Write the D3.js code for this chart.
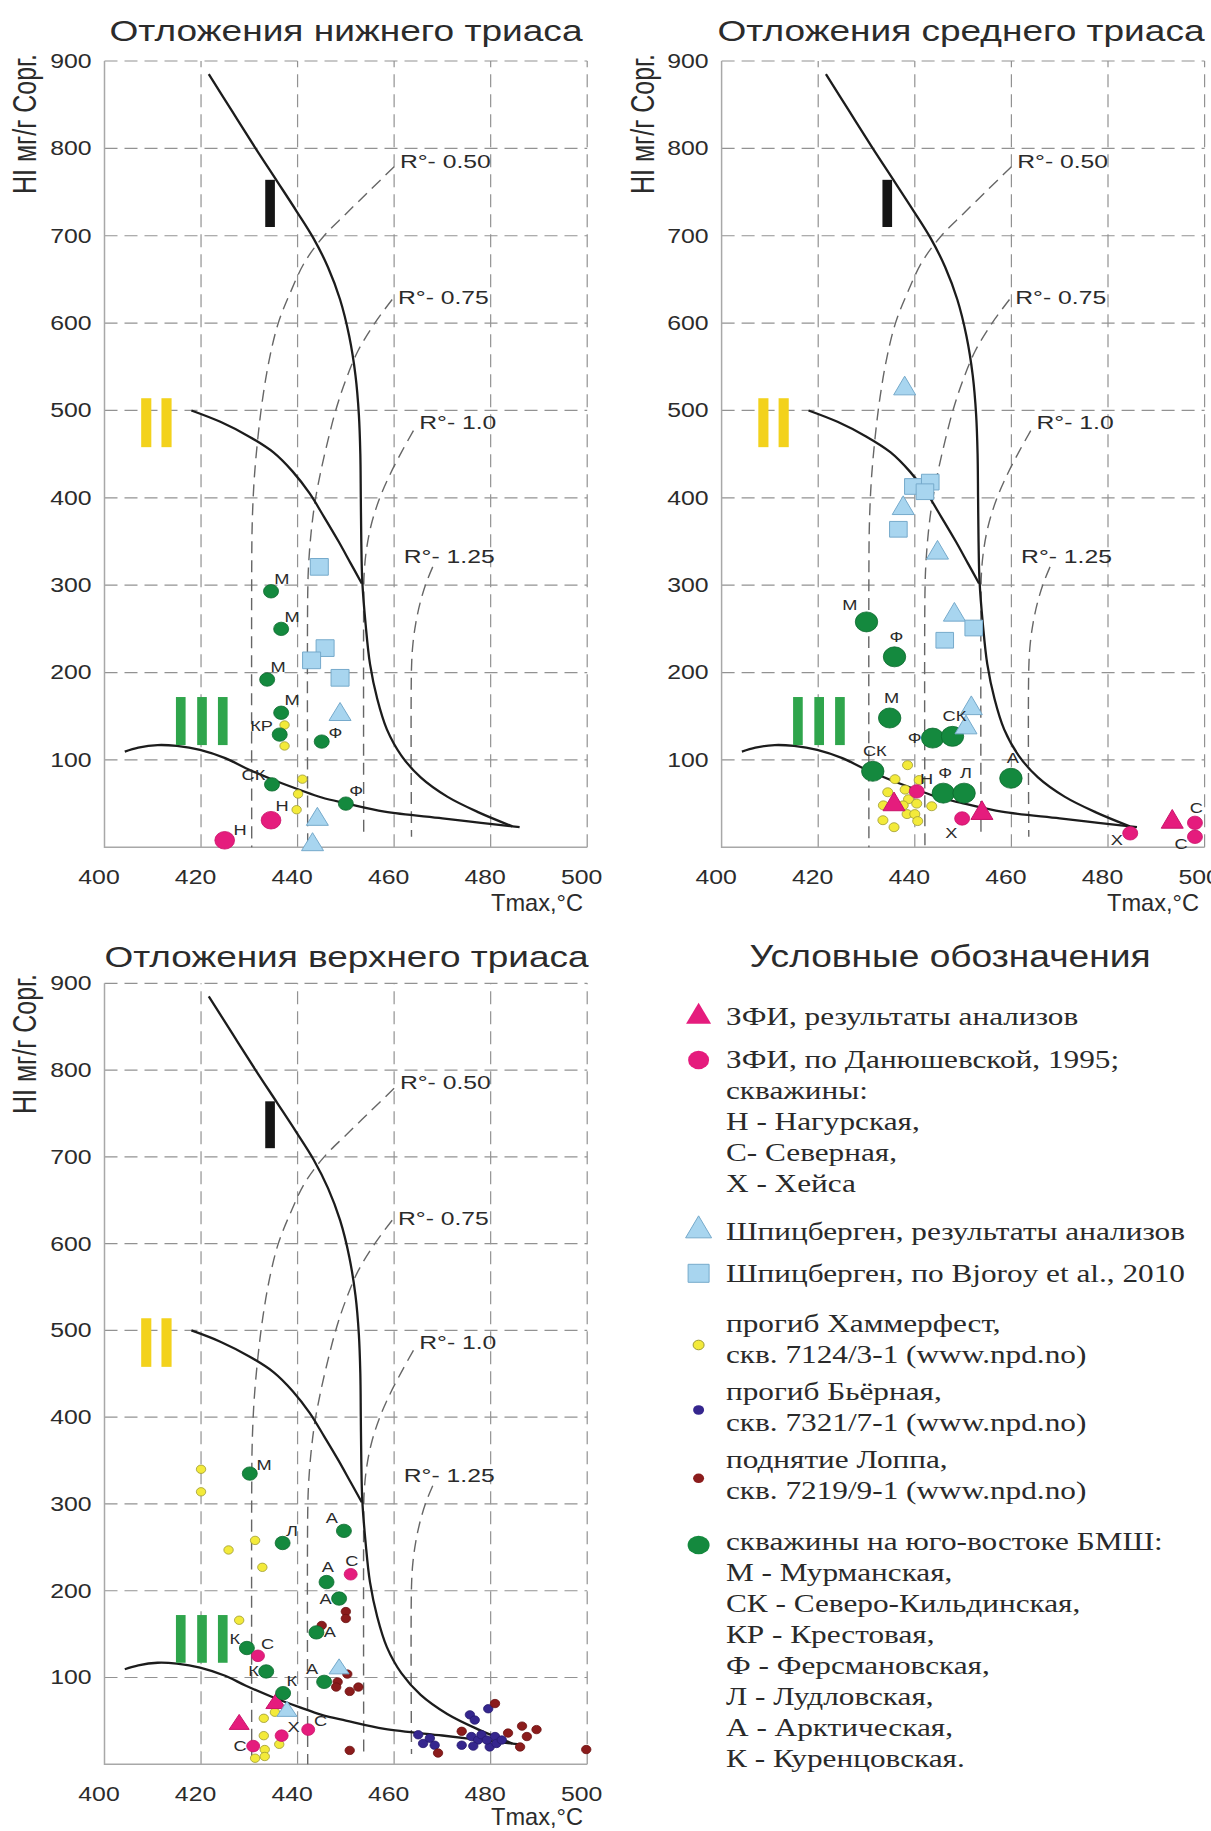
<!DOCTYPE html>
<html>
<head>
<meta charset="utf-8">
<script src="https://cdn.jsdelivr.net/npm/d3@7"></script>
<style>
  body { margin: 0; background: #fff; }
  svg { display: block; }
  text { font-family: "Liberation Sans", Arial, sans-serif; fill: #2b2b2b; }
  .serif { font-family: "Liberation Serif", "Times New Roman", serif; fill: #2a2a2a; }
</style>
</head>
<body>
<svg id="chart" width="1211" height="1831"></svg>
<script>
// ---- axes ----
const tmaxTicks = [400, 420, 440, 460, 480, 500];
const hiTicks = [100, 200, 300, 400, 500, 600, 700, 800, 900];

// ---- kerogen type curves [Tmax, HI] ----
const typeI = [[421.6, 885], [426.5, 842], [431.3, 800], [435.8, 762], [439.8, 728], [443.3, 697], [446.3, 664],
  [448.8, 627], [450.7, 585], [452, 540], [452.7, 495], [453, 450], [453.1, 400], [453.2, 350], [453.4, 305],
  [454.1, 255], [455, 210], [456.5, 170], [458.5, 135], [461.5, 105], [465.5, 80], [471, 58], [477.5, 40], [484.5, 24]];
const typeII = [[418, 500], [424, 487], [430, 470], [435, 452], [439, 430], [442.5, 405], [445.5, 378],
  [448.5, 350], [451, 325], [453.3, 302]];
const typeIII = [[404.2, 109.5], [407, 114], [411, 117], [415, 116], [419.8, 111.5], [425, 102], [429.3, 90.5],
  [435, 77], [440.5, 65.6], [445, 57], [450, 50.4], [458, 40.8], [470, 33.2], [478, 28], [486, 23]];

// ---- vitrinite reflectance isolines ----
const ro050 = [[460, 779], [455, 752], [450, 725], [445.5, 700], [441.5, 670], [438.5, 635], [436, 600],
  [434.2, 560], [432.8, 515], [431.8, 470], [431, 420], [430.6, 370], [430.5, 320], [430.5, 0]];
const ro075 = [[459.6, 627], [456, 600], [452.5, 568], [450, 535], [448, 502], [446.3, 466], [444.8, 430],
  [443.6, 395], [442.8, 360], [442.3, 325], [442.1, 290], [442.1, 0]];
const ro100 = [[464, 477], [461.5, 452], [459, 425], [456.9, 398], [455.3, 370], [454.3, 342], [453.8, 314],
  [453.7, 285], [453.7, 12]];
const ro125 = [[468, 321], [466.6, 302], [465.4, 280], [464.5, 257], [463.9, 233], [463.6, 205], [463.6, 12]];
const roLabels = [["R°- 0.50", 461.2, 786], ["R°- 0.75", 460.8, 630], ["R°- 1.0", 465.2, 487], ["R°- 1.25", 462, 333]];

// ---- kerogen type marks (roman numerals) ----
const romans = [
  { color: "#151515", bars: [[433.3, 435.3]], hi: [710, 764] },
  { color: "#f3d21c", bars: [[407.6, 409.7], [411.8, 413.9]], hi: [458, 514] },
  { color: "#2fa54c", bars: [[414.8, 416.8], [419.2, 421.2], [423.5, 425.5]], hi: [117, 172] }
];

// ---- lower Triassic ----
const lowerGreen = [[434.5, 293, "М", "ne"], [436.6, 250, "М", "ne"], [433.7, 192, "М", "ne"], [436.6, 154, "М", "ne"],
  [436.3, 129, "КР", "nww"], [445.0, 121, "Ф", "nee"], [434.7, 72, "СК", "nww"], [450.0, 50, "Ф", "ne"]];
const lowerPinkCirc = [[424.9, 8, "Н", "nee"], [434.5, 31, "Н", "ne"]];
const lowerBlueSq = [[444.5, 321], [445.7, 228], [442.9, 214], [448.8, 194]];
const lowerBlueTri = [[448.8, 152], [444.1, 32], [443.1, 3]];
const lowerYellow = [[437.3, 140], [437.3, 116], [441.0, 78], [440.1, 61], [439.8, 43]];

// ---- middle Triassic ----
const middleGreen = [[430.0, 258, "М", "nw"], [435.8, 218, "Ф", "n"], [434.8, 148, "М", "n"], [443.7, 125, "Ф", "w"],
  [447.8, 127, "СК", "n"], [431.3, 87, "СК", "n"], [445.9, 62, "Ф", "n"], [450.2, 62, "Л", "n"], [459.9, 79, "А", "n"]];
const middlePinkCirc = [[440.4, 64, "Н", "ne"], [449.8, 33, "Х", "sw"], [484.6, 16, "Х", "wsw"], [498.0, 28, "С", "n"], [498.0, 12, "С", "wsw"]];
const middlePinkTri = [[435.7, 49], [453.9, 39], [493.3, 29]];
const middleBlueSq = [[439.7, 413], [443.2, 418], [442.1, 407], [436.6, 364], [446.2, 237], [452.2, 251]];
const middleBlueTri = [[437.9, 525], [437.6, 388], [444.7, 337], [448.2, 266], [451.7, 159], [450.6, 137]];
const middleYellow = [[438.5, 94], [435.9, 78], [440.9, 77], [434.4, 63], [438.0, 66], [433.5, 48], [438.7, 55],
  [440.4, 50], [443.5, 47], [437.6, 48], [433.4, 31], [438.4, 38], [440.0, 38], [435.7, 23], [440.6, 30]];

// ---- upper Triassic ----
const upperGreen = [[430.1, 335, "М", "nee"], [436.9, 255, "Л", "ne"], [449.6, 269, "А", "nw"], [446.0, 210, "А", "n"],
  [448.6, 191, "А", "w"], [443.9, 152, "А", "e"], [429.5, 134, "К", "nww"], [433.5, 107, "К", "w"],
  [445.5, 95, "А", "nw"], [437.0, 82, "К", "ne"]];
const upperPinkCirc = [[451.0, 219, "С", "n"], [431.8, 125, "С", "ne"], [442.2, 40, "С", "nee"], [436.7, 33, "Х", "nee"], [430.8, 21, "С", "w"]];
const upperPinkTri = [[427.9, 46], [435.5, 70]];
const upperBlueTri = [[448.6, 110], [437.8, 61]];
const upperYellow = [[420.0, 340], [420.0, 314], [431.2, 258], [425.7, 247], [432.7, 227], [427.9, 166], [435.3, 60],
  [433.0, 53], [433.0, 33], [436.2, 23], [433.2, 17], [433.2, 9], [431.2, 7]];
const upperLoppa = [[450.0, 176], [450.0, 168], [445.0, 160], [450.3, 104], [448.3, 95], [448.0, 89], [450.8, 84],
  [452.6, 89], [450.8, 16], [469.1, 13], [474.0, 38], [480.9, 70], [483.6, 36], [486.5, 44], [489.5, 40],
  [487.5, 32], [486.1, 20], [499.8, 17]];
const upperBjarnaya = [[465.0, 34], [466.0, 24], [467.4, 30], [468.4, 22], [475.7, 57], [476.7, 51], [479.5, 64],
  [474.0, 22], [476.0, 32], [477.4, 28], [476.4, 21], [478.1, 34], [479.8, 20], [480.9, 32], [481.2, 24],
  [482.3, 28], [479.2, 28]];

// ---- legend ----
const legendTitle = "Условные обозначения";
const legendRows = [
  { sym: "pinkTri", lines: ["ЗФИ, результаты анализов"] },
  { sym: "pinkCirc", lines: ["ЗФИ, по Данюшевской, 1995;", "скважины:", "Н - Нагурская,", "С- Северная,", "Х - Хейса"] },
  { sym: "blueTri", lines: ["Шпицберген, результаты анализов"] },
  { sym: "blueSq", lines: ["Шпицберген, по Bjoroy et al., 2010"] },
  { sym: "yellow", lines: ["прогиб Хаммерфест,", "скв. 7124/3-1 (www.npd.no)"] },
  { sym: "navy", lines: ["прогиб Бьёрная,", "скв. 7321/7-1 (www.npd.no)"] },
  { sym: "loppa", lines: ["поднятие Лоппа,", "скв. 7219/9-1 (www.npd.no)"] },
  { sym: "green", lines: ["скважины на юго-востоке БМШ:", "М - Мурманская,", "СК - Северо-Кильдинская,",
    "КР - Крестовая,", "Ф - Ферсмановская,", "Л - Лудловская,", "А - Арктическая,", "К - Куренцовская."] }
];

// ---------------------------------------------------------------
const SX = 1.3;      // source figure is stretched sideways
const CX = 1.12;     // markers look a bit wider than tall
const svg = d3.select("#chart");

const styles = {
  green: { fill: "#14893e", stroke: "#0d6a2f" },
  pink: { fill: "#e51c7d", stroke: "#c9136a" },
  blue: { fill: "#a8d5ef", stroke: "#76aacb" },
  yellow: { fill: "#f3ea3a", stroke: "#9d9a36" },
  navy: { fill: "#35268e", stroke: "#261a6e" },
  loppa: { fill: "#8b1c1c", stroke: "#6c1313" }
};

function stretch(sel, f) {
  sel.each(function () {
    const w = this.getComputedTextLength();
    if (w > 0) d3.select(this).attr("textLength", w * f).attr("lengthAdjust", "spacingAndGlyphs");
  });
}
function fit(sel, w) { sel.attr("textLength", w).attr("lengthAdjust", "spacingAndGlyphs"); }

const triPath = (w, h) => `M0,${-h * 2 / 3}L${w / 2},${h / 3}L${-w / 2},${h / 3}Z`;
const sqPath = (w, h) => `M${-w / 2},${-h / 2}h${w}v${h}h${-w}Z`;

function labelPos(code, r) {
  switch (code) {
    case "ne": return [0.5 * r, -1.1 * r, "start"];
    case "nee": return [1.0 * r, -0.6 * r, "start"];
    case "nw": return [-0.9 * r, -1.2 * r, "end"];
    case "nww": return [-1.0 * r, -0.6 * r, "end"];
    case "n": return [0.2 * r, -1.5 * r, "middle"];
    case "e": return [1.1 * r, 5, "start"];
    case "w": return [-1.1 * r, 5, "end"];
    case "wsw": return [-1.1 * r, r + 5, "end"];
    case "sw": return [-0.7 * r, 1.6 * r + 9, "end"];
  }
}

const panels = [
  { title: "Отложения нижнего триаса", titleX: 346, titleY: 41, titleW: 473,
    xl: 104.5, xr: 587.2, yb: 847.3, yt: 61, axTitle: [25, 124], tmax: [583, 911],
    size: { green: 6.7, pink: 8.8, tri: [22, 18], sq: [18, 16.7], small: 4.2 },
    green: lowerGreen, pinkCirc: lowerPinkCirc, pinkTri: [], blueSq: lowerBlueSq, blueTri: lowerBlueTri,
    yellow: lowerYellow, navy: [], loppa: [] },
  { title: "Отложения среднего триаса", titleX: 961, titleY: 41, titleW: 487,
    xl: 721.6, xr: 1204.6, yb: 847.3, yt: 61, axTitle: [643, 124], tmax: [1199, 911],
    size: { green: 10, pink: 6.7, tri: [22, 18.7], sq: [17.6, 15.7], small: 4.5 },
    green: middleGreen, pinkCirc: middlePinkCirc, pinkTri: middlePinkTri, blueSq: middleBlueSq, blueTri: middleBlueTri,
    yellow: middleYellow, navy: [], loppa: [] },
  { title: "Отложения верхнего триаса", titleX: 346.5, titleY: 967, titleW: 484,
    xl: 104.5, xr: 587.2, yb: 1764.3, yt: 983.3, axTitle: [25, 1044], tmax: [583, 1825],
    size: { green: 6.7, pink: 5.8, tri: [20, 15], sq: [17, 15], small: 4.2 },
    green: upperGreen, pinkCirc: upperPinkCirc, pinkTri: upperPinkTri, blueSq: [], blueTri: upperBlueTri,
    yellow: upperYellow, navy: upperBjarnaya, loppa: upperLoppa }
];

function drawPanel(p) {
  const x = d3.scaleLinear().domain([400, 500]).range([p.xl, p.xr]);
  const y = d3.scaleLinear().domain([0, 900]).range([p.yb, p.yt]);
  const g = svg.append("g");

  // grid
  g.append("g").selectAll("line").data(hiTicks).join("line")
    .attr("x1", x(400)).attr("x2", x(500)).attr("y1", d => y(d)).attr("y2", d => y(d))
    .attr("stroke", "#929292").attr("stroke-width", 1.2).attr("stroke-dasharray", "13,7");
  g.append("g").selectAll("line").data(tmaxTicks.slice(1)).join("line")
    .attr("x1", d => x(d)).attr("x2", d => x(d)).attr("y1", y(0)).attr("y2", y(900))
    .attr("stroke", "#929292").attr("stroke-width", 1.2).attr("stroke-dasharray", "13,7");
  g.append("path")
    .attr("d", `M${x(400)},${y(900)}V${y(0)}H${x(500)}`)
    .attr("fill", "none").attr("stroke", "#a8a8a8").attr("stroke-width", 1.5);

  // axes
  const xAxis = g.append("g").attr("transform", `translate(0,${y(0)})`)
    .call(d3.axisBottom(x).tickValues(tmaxTicks).tickSize(0).tickPadding(23).tickFormat(d3.format("d")))
    .attr("font-size", null).attr("font-family", null);
  xAxis.select(".domain").remove();
  xAxis.selectAll("text").attr("dx", -6).style("font-size", "20px").attr("fill", "#333");
  stretch(xAxis.selectAll("text"), 1.24);

  const yAxis = g.append("g").attr("transform", `translate(${x(400)},0)`)
    .call(d3.axisLeft(y).tickValues(hiTicks).tickSize(0).tickPadding(13))
    .attr("font-size", null).attr("font-family", null);
  yAxis.select(".domain").remove();
  yAxis.selectAll("text").style("font-size", "20px").attr("fill", "#333");
  stretch(yAxis.selectAll("text"), 1.24);

  // titles
  g.append("text").attr("x", p.titleX).attr("y", p.titleY).attr("text-anchor", "middle")
    .style("font-size", "30px").attr("fill", "#222").text(p.title).call(fit, p.titleW);
  g.append("text").attr("transform", `translate(${p.axTitle[0]},${p.axTitle[1]}) scale(${SX},1) rotate(-90)`)
    .attr("text-anchor", "middle").attr("dy", "0.35em").style("font-size", "25px").attr("fill", "#333")
    .text("HI мг/г Сорг.");
  g.append("text").attr("x", p.tmax[0]).attr("y", p.tmax[1]).attr("text-anchor", "end")
    .style("font-size", "24px").attr("fill", "#333").text("Tmax,°C").call(fit, 92);

  // reflectance isolines
  const line = d3.line().x(d => x(d[0])).y(d => y(d[1])).curve(d3.curveCatmullRom.alpha(0.5));
  g.append("g").selectAll("path").data([ro050, ro075, ro100, ro125]).join("path")
    .attr("d", line).attr("fill", "none").attr("stroke", "#666").attr("stroke-width", 1.4)
    .attr("stroke-dasharray", "12,7");
  const rl = g.append("g").selectAll("text").data(roLabels).join("text")
    .attr("x", d => x(d[1])).attr("y", d => y(d[2]) + 7).style("font-size", "19px").attr("fill", "#333")
    .text(d => d[0]);
  stretch(rl, SX);

  // kerogen curves
  g.append("g").selectAll("path").data([typeI, typeII, typeIII]).join("path")
    .attr("d", line).attr("fill", "none").attr("stroke", "#1c1c1c").attr("stroke-width", 2.3);

  // roman numerals
  romans.forEach(rm => {
    g.append("g").selectAll("rect").data(rm.bars).join("rect")
      .attr("x", d => x(d[0])).attr("width", d => x(d[1]) - x(d[0]))
      .attr("y", y(rm.hi[1])).attr("height", y(rm.hi[0]) - y(rm.hi[1]))
      .attr("fill", rm.color);
  });

  const s = p.size;
  const circles = (data, r, st) => g.append("g").selectAll("ellipse").data(data).join("ellipse")
    .attr("cx", d => x(d[0])).attr("cy", d => y(d[1])).attr("rx", r * CX).attr("ry", r)
    .attr("fill", st.fill).attr("stroke", st.stroke).attr("stroke-width", 0.8);
  const shapes = (data, path, st) => g.append("g").selectAll("path").data(data).join("path")
    .attr("transform", d => `translate(${x(d[0])},${y(d[1])})`).attr("d", path)
    .attr("fill", st.fill).attr("stroke", st.stroke).attr("stroke-width", 1);

  circles(p.yellow, s.small, styles.yellow);
  circles(p.navy, s.small, styles.navy);
  circles(p.loppa, s.small, styles.loppa);
  shapes(p.pinkTri, triPath(s.tri[0], s.tri[1]), styles.pink);
  circles(p.green, s.green, styles.green);
  circles(p.pinkCirc, s.pink, styles.pink);
  shapes(p.blueTri, triPath(s.tri[0], s.tri[1]), styles.blue);
  shapes(p.blueSq, sqPath(s.sq[0], s.sq[1]), styles.blue);

  // well labels
  const labels = (data, r) => {
    const t = g.append("g").selectAll("text").data(data).join("text")
      .each(function (d) {
        const [dx, dy, a] = labelPos(d[3], r);
        d3.select(this).attr("x", x(d[0]) + dx).attr("y", y(d[1]) + dy).attr("text-anchor", a);
      })
      .style("font-size", "14px").attr("fill", "#333").text(d => d[2]);
    stretch(t, SX);
  };
  labels(p.green, s.green);
  labels(p.pinkCirc, s.pink);
}

panels.forEach(drawPanel);

// ---- legend ----
const lg = svg.append("g");
lg.append("text").attr("x", 950).attr("y", 967).attr("text-anchor", "middle")
  .style("font-size", "31px").attr("fill", "#222").text(legendTitle).call(fit, 401);

const rowBase = [1025, 1068, 1240, 1282, 1332, 1400, 1468, 1550];
const rowMark = [1016.7, 1060, 1230.5, 1273.3, 1345, 1410, 1478.3, 1545];
const markX = 698.6, textX = 726, lineGap = 31;

legendRows.forEach((row, i) => {
  const my = rowMark[i];
  const m = lg.append("g").attr("transform", `translate(${markX},${my})`);
  if (row.sym === "pinkTri") m.append("path").attr("d", triPath(25, 21)).attr("fill", styles.pink.fill);
  if (row.sym === "blueTri") m.append("path").attr("d", triPath(26, 22)).attr("fill", styles.blue.fill).attr("stroke", styles.blue.stroke);
  if (row.sym === "blueSq") m.append("path").attr("d", sqPath(21, 18)).attr("fill", styles.blue.fill).attr("stroke", styles.blue.stroke);
  if (row.sym === "pinkCirc") m.append("ellipse").attr("rx", 10.5).attr("ry", 9.3).attr("fill", styles.pink.fill);
  if (row.sym === "green") m.append("ellipse").attr("rx", 11).attr("ry", 9.3).attr("fill", styles.green.fill);
  if (row.sym === "yellow") m.append("ellipse").attr("rx", 5.5).attr("ry", 4.8).attr("fill", styles.yellow.fill).attr("stroke", styles.yellow.stroke);
  if (row.sym === "navy") m.append("ellipse").attr("rx", 5.5).attr("ry", 4.8).attr("fill", styles.navy.fill);
  if (row.sym === "loppa") m.append("ellipse").attr("rx", 5.5).attr("ry", 4.8).attr("fill", styles.loppa.fill);

  const t = lg.append("g").selectAll("text").data(row.lines).join("text")
    .attr("class", "serif").attr("x", textX).attr("y", (d, j) => rowBase[i] + j * lineGap)
    .style("font-size", "25px").text(d => d);
  stretch(t, 1.25);
});
</script>
</body>
</html>
